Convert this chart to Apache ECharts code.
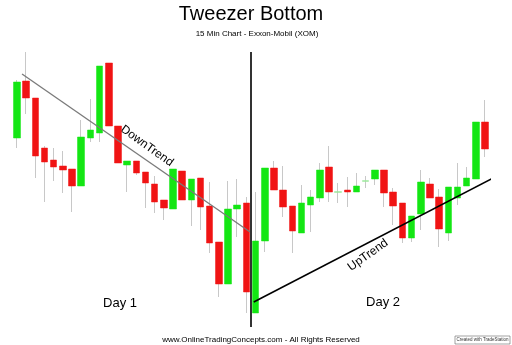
<!DOCTYPE html>
<html>
<head>
<meta charset="utf-8">
<script src="https://cdn.jsdelivr.net/npm/echarts@6/dist/echarts.min.js"></script>
<style>html,body{margin:0;padding:0;background:#fff}#c{width:512px;height:345px}</style>
</head>
<body>
<div id="c"></div>
<script>
// 15-minute bars, two trading days (26 bars each)
const categories = Array.from({length: 52}, (_, i) => (i < 26 ? 'D1-' : 'D2-') + (i % 26 + 1));
const openP  = [79.2,84.9,83.2,78.2,77.0,76.4,76.1,74.4,79.2,79.7,86.7,80.4,76.5,76.9,75.8,74.6,73.0,72.1,75.9,73.0,75.2,72.4,68.8,64.6,72.1,72.7,
                61.7,68.9,76.2,74.0,72.4,69.7,72.5,73.2,76.3,73.8,74.0,73.8,74.9,75.1,76.0,73.8,72.7,69.2,71.6,74.6,73.3,69.7,73.2,74.4,75.1,80.8];
const closeP = [84.8,83.2,77.4,76.8,76.3,76.0,74.4,79.3,80.0,86.4,80.4,76.7,76.9,75.7,74.7,72.8,72.2,76.1,73.0,75.1,72.3,68.7,64.6,72.1,72.5,63.8,
                68.9,76.2,74.0,72.3,69.9,72.7,73.3,76.0,73.8,73.8,73.8,74.4,74.9,76.0,73.7,72.4,69.2,71.4,74.8,73.2,70.1,74.3,74.3,75.2,80.8,78.1];
const lowP   = [78.2,81.6,75.2,72.8,74.9,73.7,71.8,74.4,78.8,78.8,80.4,76.7,73.8,75.5,72.2,71.7,71.0,72.1,73.0,70.4,70.0,67.7,63.3,64.6,69.3,61.7,
                61.7,67.8,74.0,71.3,67.7,69.7,69.8,72.8,72.8,72.7,72.3,73.8,74.2,74.5,72.3,70.5,68.7,68.8,70.0,73.2,68.3,68.9,72.5,74.4,75.1,77.3];
const highP  = [85.0,87.8,83.2,78.4,78.2,77.9,76.1,81.0,83.1,86.4,86.7,80.4,76.9,76.9,75.8,75.4,73.0,76.1,75.9,75.1,75.2,74.8,68.8,74.9,75.1,73.3,
                73.8,76.2,76.9,76.4,72.4,74.5,74.0,76.7,78.4,74.7,75.3,75.7,75.4,76.0,76.0,74.2,72.7,71.4,76.0,75.2,74.1,74.3,76.7,76.3,80.8,83.0];
// trend lines and day divider: [bar index, price]
const downTrend = [[0.55, 85.6], [25.4, 69.8]];
const upTrend   = [[25.8, 62.8], [52.75, 75.6]];
const dayDivider = [[25.5, 87.8], [25.5, 60.3]];

const UP = '#14e614', DOWN = '#f01414', DOJI = '#9be89b', WICK = '#c8c8c8';
const wickData = categories.map((_, i) => [openP[i], closeP[i], lowP[i], highP[i]]);
const bodyData = categories.map((_, i) => {
  const o = openP[i], c = closeP[i];
  const item = {value: [o, c, Math.min(o, c), Math.max(o, c)]};
  if (Math.abs(o - c) < 0.05) {
    item.itemStyle = {color: DOJI, color0: DOJI, borderColor: DOJI, borderColor0: DOJI};
    item.value = [o - 0.05, c + 0.05, o - 0.05, c + 0.05];
  }
  return item;
});

const FONT = 'Liberation Sans, Arial, sans-serif';
const chart = echarts.init(document.getElementById('c'), null, {renderer: 'canvas'});
chart.setOption({
  backgroundColor: '#ffffff',
  animation: false,
  grid: {left: 12.4, right: 22.4, top: 40, bottom: 15},
  xAxis: [
    {type: 'category', data: categories, show: false, boundaryGap: true},
    {type: 'value', min: -0.5, max: 51.5, show: false}
  ],
  yAxis: {type: 'value', min: 60, max: 89, show: false, scale: true},
  series: [
    {type: 'candlestick', name: 'wick', data: wickData, barWidth: 1,
     itemStyle: {color: WICK, color0: WICK, borderColor: WICK, borderColor0: WICK, borderWidth: 1}},
    {type: 'candlestick', name: 'body', data: bodyData, barWidth: 7,
     itemStyle: {color: UP, color0: DOWN, borderColor: UP, borderColor0: DOWN, borderWidth: 0.5}},
    {type: 'line', xAxisIndex: 1, data: downTrend, symbol: 'none', clip: false,
     lineStyle: {color: '#7a7a7a', width: 1.3}, z: 5},
    {type: 'line', xAxisIndex: 1, data: upTrend, symbol: 'none', clip: false,
     lineStyle: {color: '#000', width: 1.6}, z: 5},
    {type: 'line', xAxisIndex: 1, data: dayDivider, symbol: 'none', clip: false,
     lineStyle: {color: '#333', width: 2}, z: 6}
  ],
  graphic: [
    {type: 'text', x: 251, y: 14, style: {text: 'Tweezer Bottom', font: '20px ' + FONT, fill: '#000', align: 'center', verticalAlign: 'middle'}},
    {type: 'text', x: 257, y: 33.5, style: {text: '15 Min Chart - Exxon-Mobil (XOM)', font: '8px ' + FONT, fill: '#000', align: 'center', verticalAlign: 'middle'}},
    {type: 'text', x: 147, y: 146, rotation: -0.62, style: {text: 'DownTrend', font: '12px ' + FONT, fill: '#000', align: 'center', verticalAlign: 'middle'}},
    {type: 'text', x: 368, y: 255, rotation: 0.62, style: {text: 'UpTrend', font: '12px ' + FONT, fill: '#000', align: 'center', verticalAlign: 'middle'}},
    {type: 'text', x: 120, y: 303, style: {text: 'Day 1', font: '13px ' + FONT, fill: '#000', align: 'center', verticalAlign: 'middle'}},
    {type: 'text', x: 383, y: 302, style: {text: 'Day 2', font: '13px ' + FONT, fill: '#000', align: 'center', verticalAlign: 'middle'}},
    {type: 'text', x: 261, y: 340, style: {text: 'www.OnlineTradingConcepts.com - All Rights Reserved', font: '8px ' + FONT, fill: '#000', align: 'center', verticalAlign: 'middle'}},
    {type: 'rect', shape: {x: 455, y: 336, width: 55, height: 8}, style: {fill: '#fff', stroke: '#666', lineWidth: 0.6}},
    {type: 'text', x: 482.5, y: 340, style: {text: 'Created with TradeStation', font: '4.5px ' + FONT, fill: '#333', align: 'center', verticalAlign: 'middle'}}
  ]
});
</script>
</body>
</html>
